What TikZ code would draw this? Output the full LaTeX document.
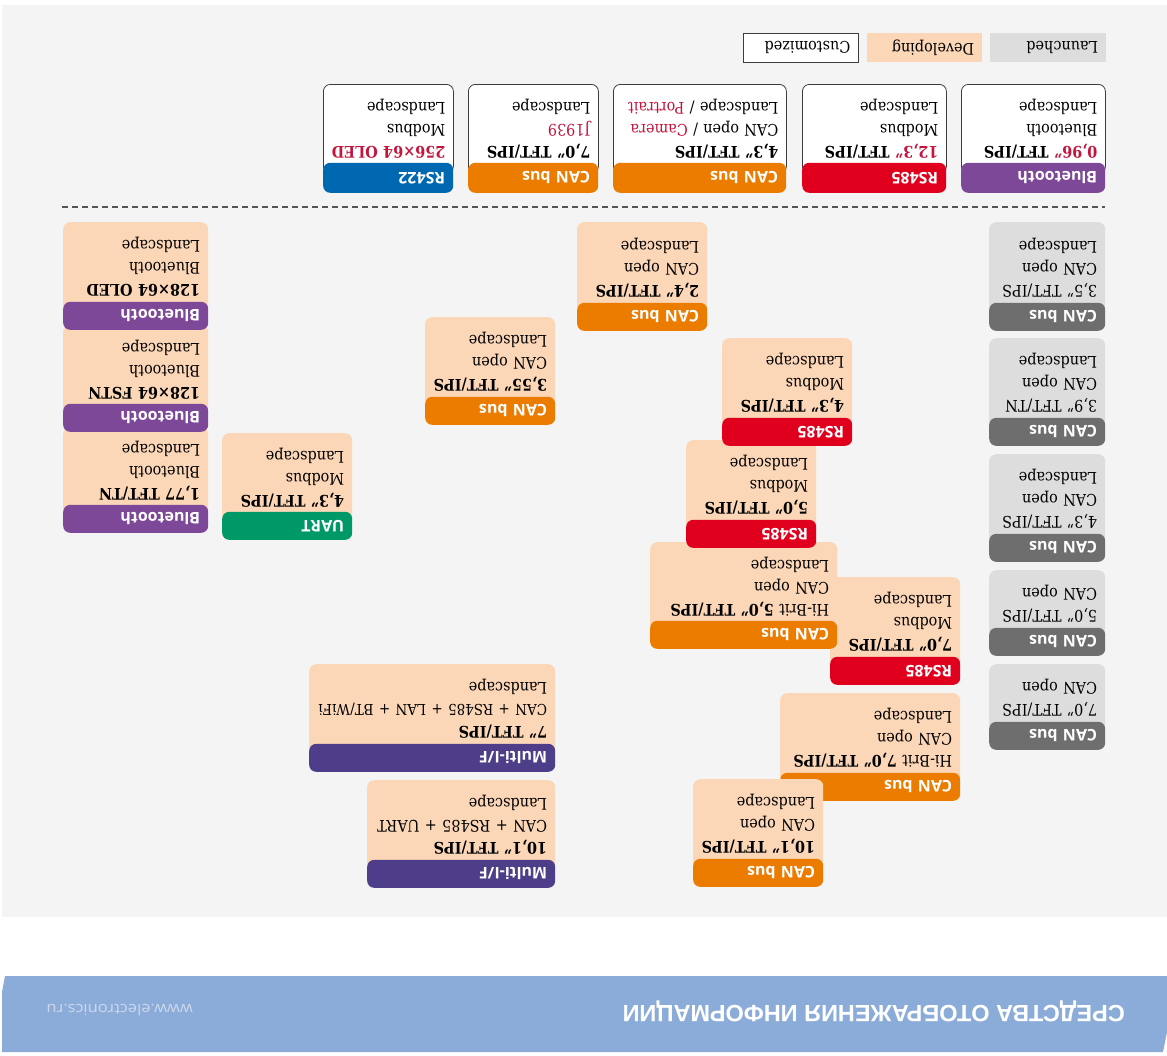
\documentclass[tikz,border=0pt]{standalone}
\usepackage{fontspec}
\setmainfont{DejaVu Serif}[FakeStretch=0.9]
\newfontfamily\tabfont{Open Sans}
\newfontfamily\urlfont{Open Sans}[FakeStretch=1.1]
\newfontfamily\bannerfont{Liberation Sans}
\definecolor{panel}{RGB}{244,244,244}
\definecolor{launchbg}{RGB}{221,221,221}
\definecolor{launchtab}{RGB}{110,110,110}
\definecolor{devbg}{RGB}{251,214,183}
\definecolor{canbus}{RGB}{236,124,0}
\definecolor{rsred}{RGB}{224,0,30}
\definecolor{btpurple}{RGB}{125,72,152}
\definecolor{rsblue}{RGB}{0,103,177}
\definecolor{uartgreen}{RGB}{0,152,102}
\definecolor{multif}{RGB}{78,62,138}
\definecolor{hl}{RGB}{196,22,60}
\definecolor{banner}{RGB}{139,172,217}
\definecolor{urlgray}{RGB}{205,215,235}
\definecolor{sepline}{RGB}{85,85,85}
\definecolor{custline}{RGB}{60,60,60}

\begin{document}
\begin{tikzpicture}[x=1pt,y=-1pt,
  body/.style={rotate=180,rounded corners=7pt,align=left,inner xsep=8pt,inner ysep=0pt,font=\fontsize{16}{22}\selectfont},
  launched/.style={body,fill=launchbg},
  developing/.style={body,fill=devbg},
  customized/.style={body,fill=white,draw=custline,line width=0.8pt},
  tab/.style={rotate=180,rounded corners=7pt,align=left,inner xsep=8pt,inner ysep=0pt,minimum height=28pt,text=white,font=\tabfont\bfseries\fontsize{16}{18}\selectfont},
  legend/.style={rotate=180,align=left,inner xsep=8pt,inner ysep=0pt,minimum height=29pt,font=\fontsize{16}{18}\selectfont},
  bannertitle/.style={rotate=180,inner sep=0pt,text=white,font=\bannerfont\bfseries\fontsize{23.5}{28}\selectfont},
  url/.style={rotate=180,inner sep=0pt,text=urlgray,font=\urlfont\fontsize{15}{17}\selectfont}]
\useasboundingbox (0,0) rectangle (1167,1055);
\fill[white] (0,0) rectangle (1167,1055);
\fill[panel] (2,5) rectangle (1167,917);
\fill[banner] (5,976) -- (1167,976) -- (1167,1032) -- (1163,1052) -- (2,1052) -- (2,992) -- cycle;
\node[bannertitle,anchor=west] (title) at (1125,1011) {СРЕДСТВА ОТОБРАЖЕНИЯ ИНФОРМАЦИИ};
\node[url,anchor=west] (url) at (193,1010) {www.electronics.ru};

\node[legend,fill=launchbg,text width=100pt,anchor=south east] (lglaunched) at (990,33) {Launched};
\node[legend,fill=devbg,text width=99pt,anchor=south east] (lgdeveloping) at (867,33) {Developing};
\node[legend,fill=white,draw=custline,line width=0.8pt,text width=99pt,anchor=south east] (lgcustomized) at (743,33) {Customized};

\node[customized,text width=128pt,minimum height=89pt,anchor=south east] (t1) at (961,84) {\textbf{\textcolor{hl}{0,96"}~TFT/IPS}\\Bluetooth\\Landscape};
\node[tab,fill=btpurple,minimum height=30pt,text width=128pt,anchor=north east] (t1tab) at (961,193) {Bluetooth};
\node[customized,text width=128pt,minimum height=89pt,anchor=south east] (t2) at (802,84) {\textbf{\textcolor{hl}{12,3"}~TFT/IPS}\\Modbus\\Landscape};
\node[tab,fill=rsred,minimum height=30pt,text width=128pt,anchor=north east] (t2tab) at (802,193) {RS485};
\node[customized,text width=157pt,minimum height=89pt,anchor=south east] (t3) at (613,84) {\textbf{4,3"~TFT/IPS}\\CAN~open~/~\textcolor{hl}{Camera}\\Landscape~/~\textcolor{hl}{Portrait}};
\node[tab,fill=canbus,minimum height=30pt,text width=157pt,anchor=north east] (t3tab) at (613,193) {CAN bus};
\node[customized,text width=114pt,minimum height=89pt,anchor=south east] (t4) at (468,84) {\textbf{7,0"~TFT/IPS}\\\textcolor{hl}{J1939}\\Landscape};
\node[tab,fill=canbus,minimum height=30pt,text width=114pt,anchor=north east] (t4tab) at (468,193) {CAN bus};
\node[customized,text width=114pt,minimum height=89pt,anchor=south east] (t5) at (323,84) {\textbf{\textcolor{hl}{256×64~OLED}}\\Modbus\\Landscape};
\node[tab,fill=rsblue,minimum height=30pt,text width=114pt,anchor=north east] (t5tab) at (323,193) {RS422};

\coordinate (sepl) at (62,207);
\coordinate (sepr) at (1105,207);
\draw[sepline,line width=1.3pt,dash pattern=on 6pt off 4pt] (sepl) -- (sepr);

\node[launched,text width=100pt,minimum height=91pt,anchor=south east] (l1) at (989,222) {3,5"~TFT/IPS\\CAN~open\\Landscape};
\node[tab,fill=launchtab,text width=100pt,anchor=north east] (l1tab) at (989,331) {CAN bus};
\node[launched,text width=100pt,minimum height=90pt,anchor=south east] (l2) at (989,338) {3,9"~TFT/TN\\CAN~open\\Landscape};
\node[tab,fill=launchtab,text width=100pt,anchor=north east] (l2tab) at (989,446) {CAN bus};
\node[launched,text width=100pt,minimum height=90pt,anchor=south east] (l3) at (989,454) {4,3"~TFT/IPS\\CAN~open\\Landscape};
\node[tab,fill=launchtab,text width=100pt,anchor=north east] (l3tab) at (989,562) {CAN bus};
\node[launched,text width=100pt,minimum height=68pt,anchor=south east] (l4) at (989,570) {5,0"~TFT/IPS\\CAN~open};
\node[tab,fill=launchtab,text width=100pt,anchor=north east] (l4tab) at (989,656) {CAN bus};
\node[launched,text width=100pt,minimum height=68pt,anchor=south east] (l5) at (989,664) {7,0"~TFT/IPS\\CAN~open};
\node[tab,fill=launchtab,text width=100pt,anchor=north east] (l5tab) at (989,750) {CAN bus};

\node[developing,text width=172pt,minimum height=90pt,anchor=south east] (d14) at (367,780) {\textbf{10,1"~TFT/IPS}\\CAN~+~RS485~+~UART\\Landscape};
\node[tab,fill=multif,text width=172pt,anchor=north east] (d14tab) at (367,888) {Multi-I/F};
\node[developing,text width=230pt,minimum height=90pt,anchor=south east] (d13) at (309,664) {\textbf{7"~TFT/IPS}\\{\fontsize{15}{22}\selectfont CAN~+~RS485~+~LAN~+~BT/WiFi}\\Landscape};
\node[tab,fill=multif,text width=230pt,anchor=north east] (d13tab) at (309,772) {Multi-I/F};
\node[developing,text width=164pt,minimum height=90pt,anchor=south east] (d6) at (780,693) {Hi-Brit~\textbf{7,0"~TFT/IPS}\\CAN~open\\Landscape};
\node[tab,fill=canbus,text width=164pt,anchor=north east] (d6tab) at (780,801) {CAN bus};
\node[developing,text width=114pt,minimum height=90pt,anchor=south east] (d7) at (693,779) {\textbf{10,1"~TFT/IPS}\\CAN~open\\Landscape};
\node[tab,fill=canbus,text width=114pt,anchor=north east] (d7tab) at (693,887) {CAN bus};
\node[developing,text width=114pt,minimum height=90pt,anchor=south east] (d5) at (830,577) {\textbf{7,0"~TFT/IPS}\\Modbus\\Landscape};
\node[tab,fill=rsred,text width=114pt,anchor=north east] (d5tab) at (830,685) {RS485};
\node[developing,text width=171pt,minimum height=89pt,anchor=south east] (d4) at (650,542) {Hi-Brit~\textbf{5,0"~TFT/IPS}\\CAN~open\\Landscape};
\node[tab,fill=canbus,text width=171pt,anchor=north east] (d4tab) at (650,649) {CAN bus};
\node[developing,text width=114pt,minimum height=90pt,anchor=south east] (d3) at (686,440) {\textbf{5,0"~TFT/IPS}\\Modbus\\Landscape};
\node[tab,fill=rsred,text width=114pt,anchor=north east] (d3tab) at (686,548) {RS485};
\node[developing,text width=114pt,minimum height=90pt,anchor=south east] (d2) at (722,338) {\textbf{4,3"~TFT/IPS}\\Modbus\\Landscape};
\node[tab,fill=rsred,text width=114pt,anchor=north east] (d2tab) at (722,446) {RS485};
\node[developing,text width=114pt,minimum height=90pt,anchor=south east] (d8) at (425,317) {\textbf{3,55"~TFT/IPS}\\CAN~open\\Landscape};
\node[tab,fill=canbus,text width=114pt,anchor=north east] (d8tab) at (425,425) {CAN bus};
\node[developing,text width=114pt,minimum height=89pt,anchor=south east] (d9) at (222,433) {\textbf{4,3"~TFT/IPS}\\Modbus\\Landscape};
\node[tab,fill=uartgreen,text width=114pt,anchor=north east] (d9tab) at (222,540) {UART};
\node[developing,text width=129pt,minimum height=88pt,anchor=south east] (d12) at (63,427) {\textbf{1,77~TFT/TN}\\Bluetooth\\Landscape};
\node[tab,fill=btpurple,text width=129pt,anchor=north east] (d12tab) at (63,533) {Bluetooth};
\node[developing,text width=129pt,minimum height=89pt,anchor=south east] (d11) at (63,325) {\textbf{128×64~FSTN}\\Bluetooth\\Landscape};
\node[tab,fill=btpurple,text width=129pt,anchor=north east] (d11tab) at (63,432) {Bluetooth};
\node[developing,text width=129pt,minimum height=90pt,anchor=south east] (d10) at (63,222) {\textbf{128×64~OLED}\\Bluetooth\\Landscape};
\node[tab,fill=btpurple,text width=129pt,anchor=north east] (d10tab) at (63,330) {Bluetooth};
\node[developing,text width=114pt,minimum height=91pt,anchor=south east] (d1) at (577,222) {\textbf{2,4"~TFT/IPS}\\CAN~open\\Landscape};
\node[tab,fill=canbus,text width=114pt,anchor=north east] (d1tab) at (577,331) {CAN bus};
\end{tikzpicture}
\end{document}
